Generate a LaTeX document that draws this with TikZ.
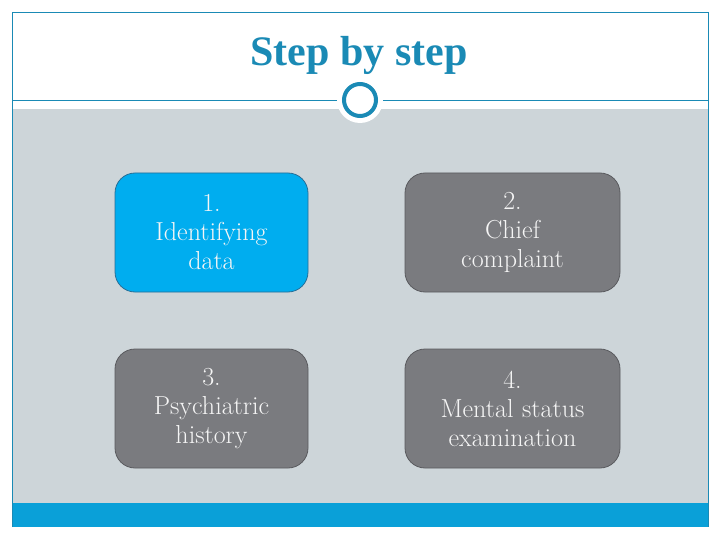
\documentclass[tikz,border=0pt]{standalone}
\usepackage{tikz}
\usetikzlibrary{positioning}
\usepackage{xcolor}
\usepackage{fontspec}
\newfontfamily\titlefont{Liberation Serif}
\definecolor{SlideTeal}{RGB}{26,138,181}
\definecolor{SlideGray}{RGB}{205,213,217}
\definecolor{SlideBar}{RGB}{10,160,216}
\definecolor{BoxCyan}{RGB}{0,173,239}
\definecolor{BoxCyanEdge}{RGB}{40,110,150}
\definecolor{BoxGray}{RGB}{122,123,127}
\definecolor{BoxGrayEdge}{RGB}{90,91,95}
\definecolor{BoxText}{RGB}{245,245,245}

\begin{document}
\begin{tikzpicture}[
  x=1pt,y=-1pt,
  stepbox/.style={rounded corners=20pt,minimum width=193pt,minimum height=119pt,
              text width=185pt,align=center,line width=0.8pt,
              font=\fontsize{26}{29}\selectfont,text=BoxText},
  cyanbox/.style={stepbox,draw=BoxCyanEdge,fill=BoxCyan},
  graybox/.style={stepbox,draw=BoxGrayEdge,fill=BoxGray},
]
\useasboundingbox (0,0) rectangle (720,540);
\fill[white] (0,0) rectangle (720,540);
% slide frame
\fill[SlideGray] (12,109) rectangle (708,503);
\fill[SlideBar] (12,503) rectangle (708,527);
\draw[SlideTeal,line width=0.8pt] (12,527) -- (12,12) -- (708,12) -- (708,527);
\draw[SlideTeal,line width=0.8pt] (12,100) -- (708,100);
% title
\node[font=\titlefont\fontsize{42}{48}\selectfont\bfseries,text=SlideTeal] (title) at (359,55) {Step by step};
\fill[white] (360,100) circle[radius=23pt];
\node[circle,draw=SlideTeal,line width=4pt,minimum size=32pt,inner sep=0pt] (dot) at (360,100) {};
% steps
\node[cyanbox] (ident) at (211.5,232.5) {1.\\Identifying\\data};
\node[graybox,minimum width=215pt] (chief) at (512.5,232.5) {2.\\Chief\\complaint};
\node[graybox] (psych) at (211.5,408.5) {3.\\Psychiatric\\history};
\node[graybox,minimum width=215pt] (mental) at (512.5,408.5) {4.\\Mental status\\examination};
\end{tikzpicture}
\end{document}
